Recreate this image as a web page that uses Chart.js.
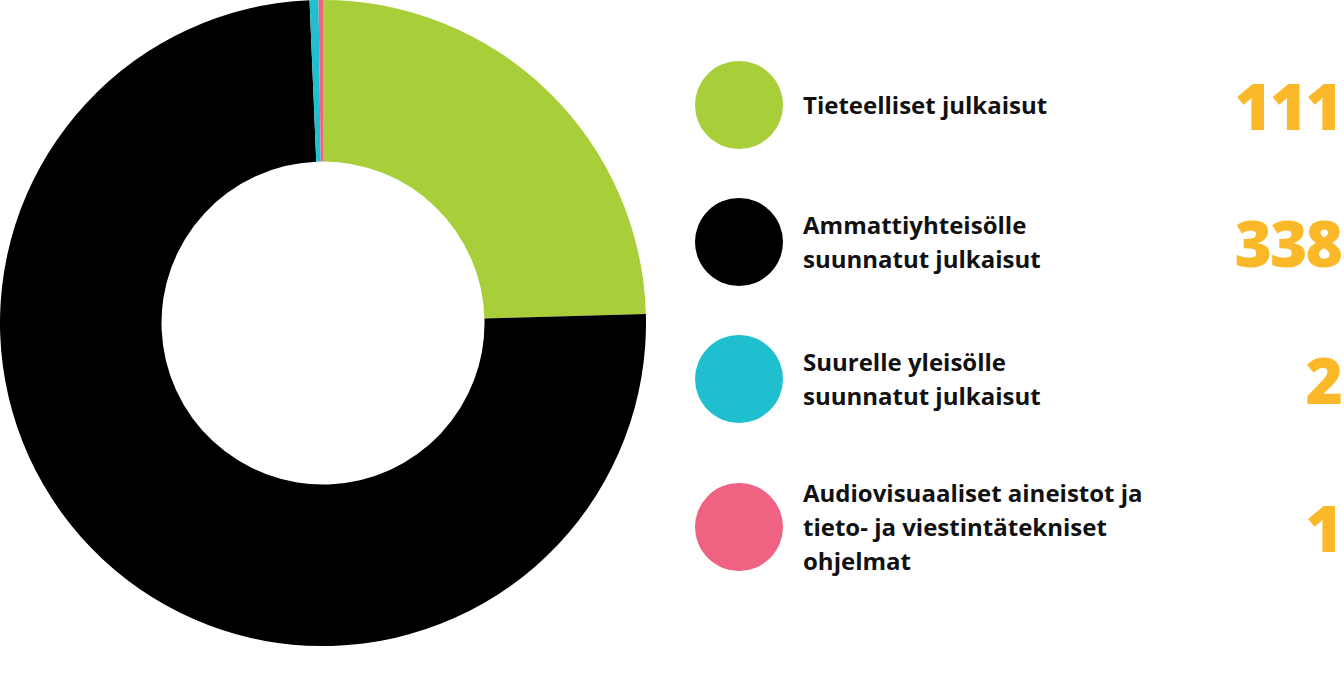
<!DOCTYPE html>
<html>
<head>
<meta charset="utf-8">
<script src="https://cdn.jsdelivr.net/npm/chart.js@4/dist/chart.umd.min.js"></script>
<style>
  body { margin: 0; background: #fff; font-family: "Open Sans", sans-serif; }
  #wrap { position: relative; width: 1344px; height: 700px; }
  #chartBox { position: absolute; left: 0; top: 0; width: 646px; height: 646px; }
  .item { position: absolute; left: 695px; width: 646px; display: flex; align-items: center; }
  .dot { width: 88px; height: 88px; border-radius: 50%; flex: none; }
  .label { margin-left: 20px; font-weight: 700; font-size: 24px; line-height: 34px; color: #111; width: 440px; }
  .num { position: absolute; right: 0; font-weight: 800; font-size: 64px; color: #FBB829; letter-spacing: -2px; }
</style>
</head>
<body>
<div id="wrap">
  <div id="chartBox"><canvas id="donut"></canvas></div>
  <div id="legend"></div>
</div>
<script>
const labels = [
  "Tieteelliset julkaisut",
  "Ammattiyhteisölle<br>suunnatut julkaisut",
  "Suurelle yleisölle<br>suunnatut julkaisut",
  "Audiovisuaaliset aineistot ja<br>tieto- ja viestintätekniset<br>ohjelmat"
];
const values = [111, 338, 2, 1];
const colors = ["#A8CE3A", "#000000", "#1FBFD0", "#F06282"];
const legendCenters = [105, 242, 379, 527];

new Chart(document.getElementById("donut"), {
  type: "doughnut",
  data: {
    labels: labels.map(l => l.replace(/<br>/g, " ")),
    datasets: [{ data: values, backgroundColor: colors, borderWidth: 0 }]
  },
  options: {
    responsive: true,
    maintainAspectRatio: false,
    animation: false,
    cutout: "50%",
    plugins: { legend: { display: false }, tooltip: { enabled: false } }
  }
});

// LEGEND
let html = "";
labels.forEach((l, i) => {
  html += `<div class="item" style="top:${legendCenters[i] - 44}px;height:88px">
    <div class="dot" style="background:${colors[i]}"></div>
    <div class="label">${l}</div>
    <div class="num">${values[i]}</div>
  </div>`;
});
document.getElementById("legend").innerHTML = html;
</script>
</body>
</html>
